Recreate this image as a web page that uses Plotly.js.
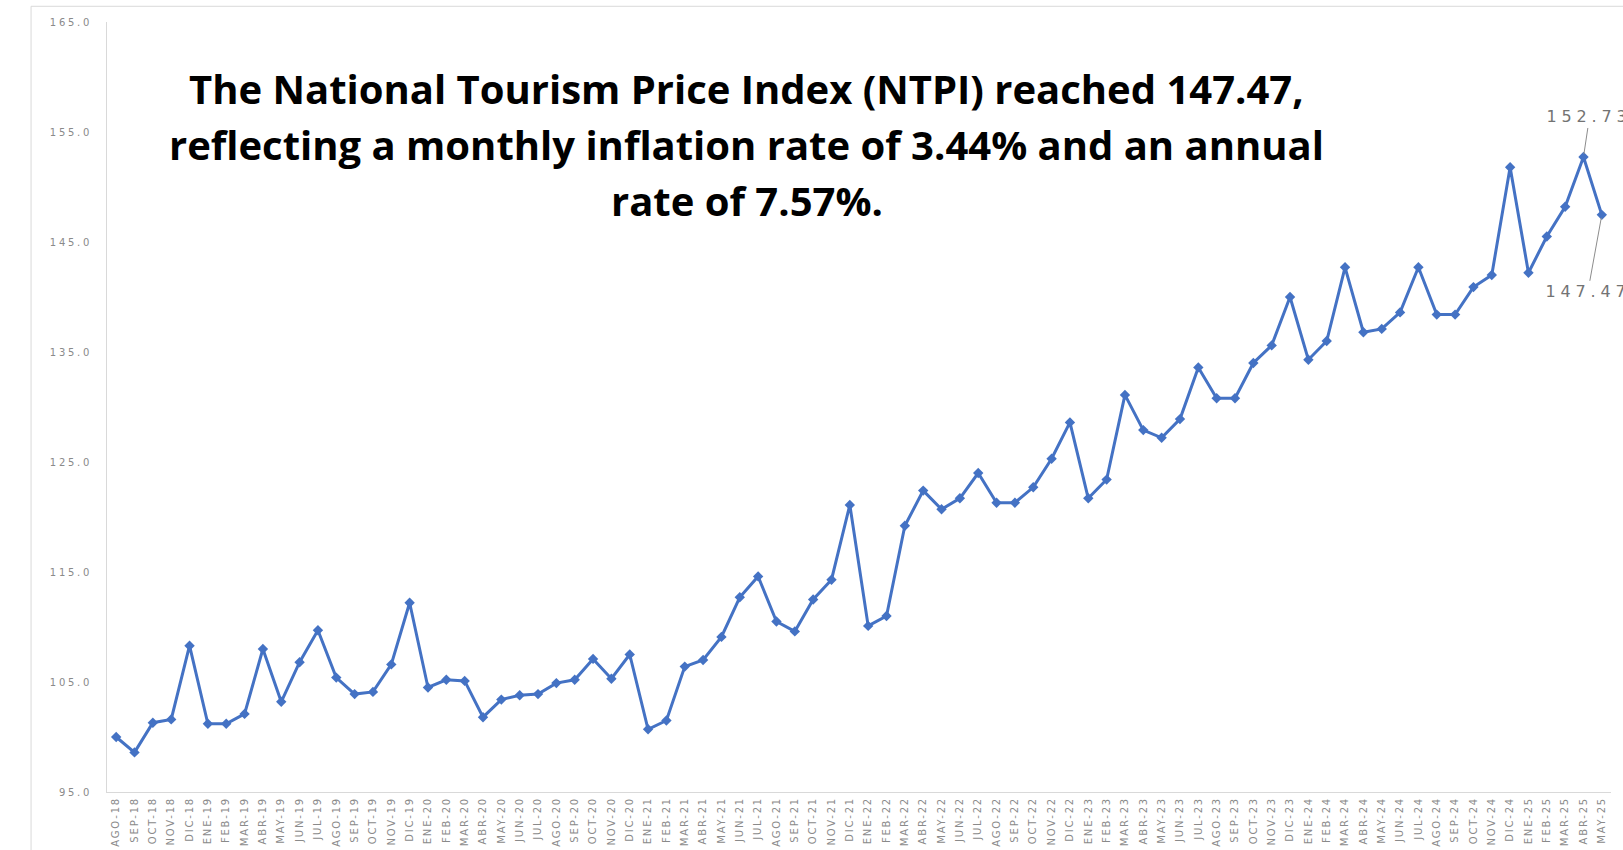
<!DOCTYPE html>
<html>
<head>
<meta charset="utf-8">
<script src="https://cdn.plot.ly/plotly-3.0.1.min.js"></script>
<style>
html,body{margin:0;padding:0;background:#fff;}
#chart{width:1623px;height:850px;}
#chart .ytick text{letter-spacing:2.7px;}
#chart .xtick text{letter-spacing:1.8px;}
#chart .annotation[data-index="3"] text,
#chart .annotation[data-index="4"] text{letter-spacing:4.8px;}
</style>
</head>
<body>
<div id="chart"></div>
<script>
const months = [
"AGO-18","SEP-18","OCT-18","NOV-18","DIC-18",
"ENE-19","FEB-19","MAR-19","ABR-19","MAY-19","JUN-19","JUL-19","AGO-19","SEP-19","OCT-19","NOV-19","DIC-19",
"ENE-20","FEB-20","MAR-20","ABR-20","MAY-20","JUN-20","JUL-20","AGO-20","SEP-20","OCT-20","NOV-20","DIC-20",
"ENE-21","FEB-21","MAR-21","ABR-21","MAY-21","JUN-21","JUL-21","AGO-21","SEP-21","OCT-21","NOV-21","DIC-21",
"ENE-22","FEB-22","MAR-22","ABR-22","MAY-22","JUN-22","JUL-22","AGO-22","SEP-22","OCT-22","NOV-22","DIC-22",
"ENE-23","FEB-23","MAR-23","ABR-23","MAY-23","JUN-23","JUL-23","AGO-23","SEP-23","OCT-23","NOV-23","DIC-23",
"ENE-24","FEB-24","MAR-24","ABR-24","MAY-24","JUN-24","JUL-24","AGO-24","SEP-24","OCT-24","NOV-24","DIC-24",
"ENE-25","FEB-25","MAR-25","ABR-25","MAY-25"
];
const ntpi = [
100.0, 98.6, 101.3, 101.6, 108.3,
101.2, 101.2, 102.1, 108.0, 103.2, 106.8, 109.7, 105.4, 103.9, 104.1, 106.6, 112.2,
104.5, 105.2, 105.1, 101.8, 103.4, 103.8, 103.9, 104.9, 105.2, 107.1, 105.3, 107.5,
100.7, 101.5, 106.4, 107.0, 109.1, 112.7, 114.6, 110.5, 109.6, 112.5, 114.3, 121.1,
110.1, 111.0, 119.2, 122.4, 120.7, 121.7, 124.0, 121.3, 121.3, 122.7, 125.3, 128.6,
121.7, 123.4, 131.1, 127.9, 127.2, 128.9, 133.6, 130.8, 130.8, 134.0, 135.6, 140.0,
134.3, 136.0, 142.7, 136.8, 137.1, 138.6, 142.7, 138.4, 138.4, 140.9, 142.0, 151.8,
142.2, 145.5, 148.2, 152.73, 147.47
];
const yTicks = [95, 105, 115, 125, 135, 145, 155, 165];
const yTickText = ["95.0","105.0","115.0","125.0","135.0","145.0","155.0","165.0"];
const titleLines = [
"The National Tourism Price Index (NTPI) reached 147.47,",
"reflecting a monthly inflation rate of 3.44% and an annual",
"rate of 7.57%."
];
const labelledPoints = [
  {month: "ABR-25", value: 152.73, text: "152.73", ax: 6, ay: -40},
  {month: "MAY-25", value: 147.47, text: "147.47", ax: -14, ay: 77}
];

const blue = "#4472C4";
const trace = {
  type: "scatter",
  mode: "lines+markers",
  x: months,
  y: ntpi,
  line: {color: blue, width: 3},
  marker: {symbol: "diamond", size: 8, color: blue},
  hoverinfo: "x+y",
  cliponaxis: false
};

const titleY = [0.914, 0.841, 0.7685];
const annotations = titleLines.map((t, i) => ({
  xref: "paper", yref: "paper", x: 0.4255, y: titleY[i],
  xanchor: "center", yanchor: "middle",
  text: "<b>" + t + "</b>", showarrow: false,
  font: {family: "Open Sans, Noto Sans, sans-serif", size: 40, color: "#000"}
}));
labelledPoints.forEach(p => annotations.push({
  x: p.month, y: p.value, xref: "x", yref: "y",
  text: p.text, showarrow: true, arrowhead: 0, arrowwidth: 1,
  arrowcolor: "#8c8c8c", ax: p.ax, ay: p.ay, standoff: 3,
  font: {family: "DejaVu Sans, sans-serif", size: 16, color: "#737373"}
}));

const layout = {
  width: 1623, height: 850,
  margin: {l: 107, r: 12, t: 22, b: 58},
  paper_bgcolor: "#fff", plot_bgcolor: "#fff",
  showlegend: false,
  xaxis: {
    type: "category", range: [-0.5, months.length - 0.5],
    tickangle: -90, showgrid: false, zeroline: false,
    showline: true, linecolor: "#d9d9d9", linewidth: 1,
    ticks: "", tickfont: {family: "DejaVu Sans, sans-serif", size: 10, color: "#8a8a8a"},
    automargin: false
  },
  yaxis: {
    range: [95, 165], tickvals: yTicks, ticktext: yTickText,
    showgrid: false, zeroline: false,
    showline: true, linecolor: "#d9d9d9", linewidth: 1,
    ticks: "", ticklabelstandoff: 12,
    tickfont: {family: "DejaVu Sans, sans-serif", size: 10, color: "#8a8a8a"},
    automargin: false
  },
  shapes: [{
    type: "rect", xref: "paper", yref: "paper",
    x0: -0.0505, x1: 1.05, y0: -0.2, y1: 1.0204,
    line: {color: "#d9d9d9", width: 1}, fillcolor: "rgba(0,0,0,0)", layer: "below"
  }],
  annotations: annotations
};

Plotly.newPlot("chart", [trace], layout, {displayModeBar: false, staticPlot: true});
</script>
</body>
</html>
